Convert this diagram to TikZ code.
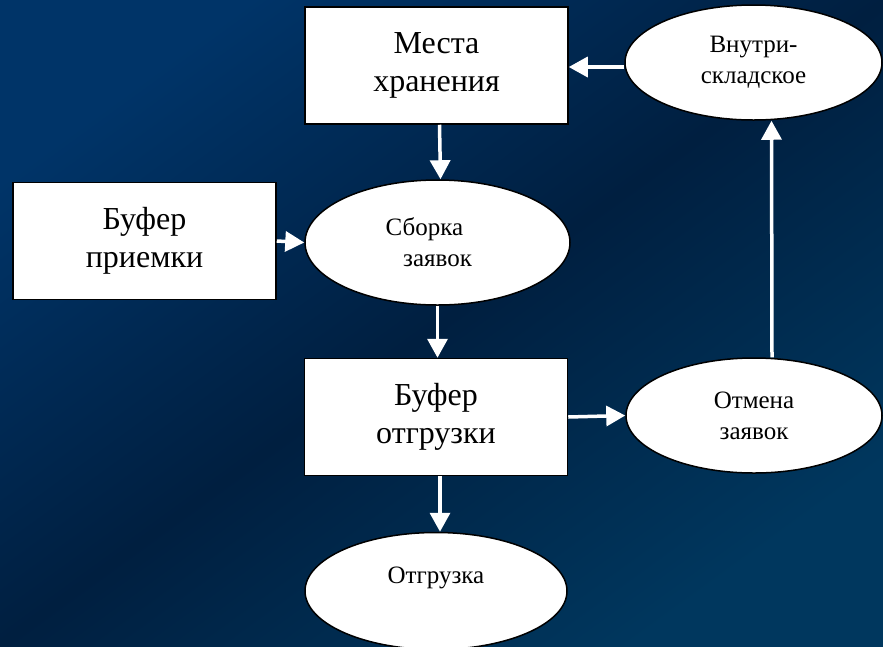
\documentclass[tikz,border=0pt]{standalone}
\usepackage{fontspec}
\setmainfont{Liberation Serif}
\usetikzlibrary{shapes.geometric,arrows.meta}
\definecolor{bgA}{RGB}{0,52,104}
\definecolor{bgB}{RGB}{0,31,64}
\definecolor{bgC}{RGB}{0,55,94}
\begin{document}
\begin{tikzpicture}[x=1pt,y=-1pt,
  box/.style={draw=black,line width=1.5pt,fill=white,rectangle,
    minimum width=263pt,minimum height=117pt,inner sep=0pt,align=center,
    font=\fontsize{32}{38}\selectfont},
  ell/.style={draw=black,line width=1.5pt,fill=white,ellipse,
    inner sep=0pt,align=center,font=\fontsize{25}{31}\selectfont},
  lbl/.style={inner sep=0pt,align=center,font=\fontsize{25}{31}\selectfont},
  arr/.style={white,line width=3.5pt,-{Triangle[length=19pt,width=20pt]}}]
  % background
  \shade[top color=bgA,bottom color=bgC,middle color=bgB,shading angle=36]
    (0,0) rectangle (883,646);
  \useasboundingbox (0,0) rectangle (883,646);

  % blocks
  \node[box] (mesta) at (436.5,65.5) {Места\\хранения};
  \node[box] (bufpr) at (144.5,241) {Буфер\\приемки};
  \node[box] (bufot) at (436,417) {Буфер\\отгрузки};

  % operations
  \node[ell,minimum width=265pt,minimum height=125pt] (sbor) at (437.5,242.5) {Сборка\hspace*{26pt}\\заявок};
  \node[ell,minimum width=257pt,minimum height=115pt] (vnutri) at (753.5,62.5) {Внутри-\\складское};
  \node[ell,minimum width=256pt,minimum height=115pt] (otmena) at (754,415.5) {Отмена\\заявок};
  \node[ell,minimum width=262pt,minimum height=117pt] (otgr) at (436,591) {};
  \node[lbl] (otgrlbl) at (436,578) {Отгрузка};

  % flows
  \coordinate (lvl) at (0,67);
  \draw[arr] ([xshift=3pt]mesta.south) -- ([xshift=3pt]sbor.north);
  \draw[arr] (bufpr.east) -- (sbor.west);
  \draw[arr] (sbor.south) -- (bufot.north -| sbor.south);
  \draw[arr] (bufot.east) -- (otmena.west);
  \draw[arr] ([xshift=4pt]bufot.south) -- ([xshift=4pt]otgr.north);
  \draw[arr] ([xshift=18pt]otmena.north) -- ([xshift=18pt]vnutri.south);
  \draw[arr] (vnutri.west |- lvl) -- (mesta.east |- lvl);
\end{tikzpicture}
\end{document}
